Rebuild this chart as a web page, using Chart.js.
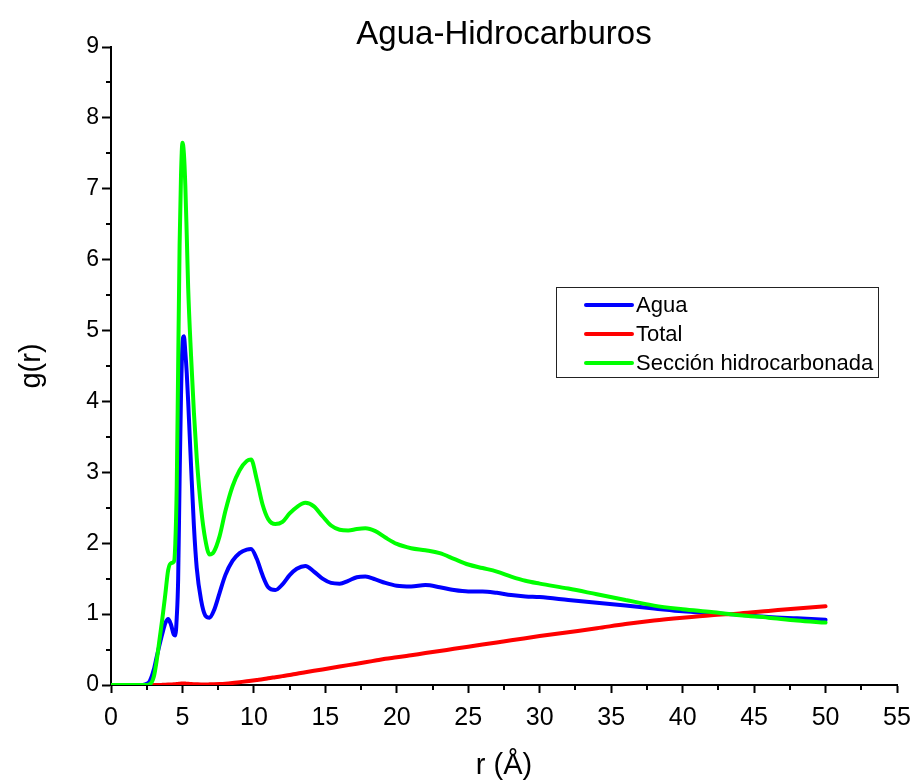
<!DOCTYPE html>
<html>
<head>
<meta charset="utf-8">
<script src="https://cdn.jsdelivr.net/npm/chart.js@4.4.1/dist/chart.umd.min.js"></script>
<style>
  html, body { margin: 0; padding: 0; background: #fff; }
  #wrap { width: 914px; height: 783px; }
</style>
</head>
<body>
<div id="wrap"><canvas id="chart" width="914" height="783"></canvas></div>
<script>
// r (Å) sample points, shared by the three curves
const rValues = [0, 1, 2, 2.4, 2.7, 3.0, 3.2, 3.4, 3.6, 3.8, 4.0, 4.2, 4.4, 4.5, 4.6, 4.7, 4.8, 4.9, 5.0, 5.1,
  5.2, 5.3, 5.4, 5.6, 5.8, 6.0, 6.3, 6.6, 6.9, 7.2, 7.6, 8.0, 8.5, 9.0, 9.5, 9.8, 10.2, 10.6, 11.0, 11.5,
  12.0, 12.5, 13.0, 13.6, 14.2, 14.8, 15.4, 16.0, 16.6, 17.2, 17.8, 18.5, 19.2, 20, 21, 22, 23, 24, 25, 26,
  27, 28, 29, 30, 32, 34, 36, 38, 40, 42, 44, 46, 48, 50];

const aguaValues = [0, 0, 0, 0.01, 0.05, 0.22, 0.40, 0.57, 0.73, 0.87, 0.93, 0.85, 0.71, 0.70, 0.95, 1.5, 2.9, 4.1, 4.8, 4.92,
  4.7, 4.4, 4.0, 3.1, 2.25, 1.65, 1.2, 0.98, 0.95, 1.05, 1.3, 1.55, 1.75, 1.86, 1.91, 1.92, 1.78, 1.55, 1.38, 1.34,
  1.42, 1.55, 1.64, 1.68, 1.6, 1.5, 1.44, 1.43, 1.47, 1.52, 1.53, 1.49, 1.44, 1.40, 1.39, 1.41, 1.38, 1.34, 1.32, 1.32,
  1.30, 1.27, 1.25, 1.24, 1.20, 1.16, 1.12, 1.08, 1.04, 1.015, 0.99, 0.96, 0.94, 0.92];

const totalValues = [0, 0, 0, 0, 0, 0, 0, 0, 0.002, 0.004, 0.006, 0.008, 0.01, 0.012, 0.014, 0.016, 0.018, 0.02, 0.022, 0.022,
  0.02, 0.018, 0.016, 0.014, 0.012, 0.01, 0.008, 0.008, 0.009, 0.01, 0.013, 0.018, 0.028, 0.04, 0.052, 0.06, 0.07, 0.08, 0.095, 0.11,
  0.125, 0.14, 0.16, 0.18, 0.20, 0.22, 0.24, 0.26, 0.28, 0.30, 0.32, 0.345, 0.37, 0.39, 0.42, 0.45, 0.48, 0.51, 0.54, 0.57,
  0.60, 0.63, 0.66, 0.69, 0.745, 0.80, 0.86, 0.91, 0.95, 0.985, 1.01, 1.045, 1.08, 1.11];

const seccionValues = [0, 0, 0, 0, 0.01, 0.12, 0.35, 0.65, 0.95, 1.28, 1.62, 1.72, 1.74, 2.0, 2.8, 4.5, 6.2, 7.2, 7.65, 7.5,
  7.05, 6.35, 5.6, 4.65, 3.85, 3.2, 2.5, 2.05, 1.84, 1.88, 2.1, 2.45, 2.8, 3.03, 3.16, 3.18, 2.9, 2.55, 2.34, 2.27,
  2.3, 2.42, 2.51, 2.57, 2.52, 2.38, 2.25, 2.19, 2.18, 2.2, 2.21, 2.17, 2.08, 1.99, 1.93, 1.90, 1.86, 1.78, 1.70, 1.65,
  1.60, 1.53, 1.47, 1.43, 1.36, 1.28, 1.20, 1.12, 1.07, 1.03, 0.985, 0.95, 0.91, 0.88];

const seriesLabels = ['Agua', 'Total', 'Sección hidrocarbonada'];
const seriesColors = ['#0000ff', '#ff0000', '#00ff00'];
const xTicks = [0, 5, 10, 15, 20, 25, 30, 35, 40, 45, 50, 55];
const yTicks = [0, 1, 2, 3, 4, 5, 6, 7, 8, 9];
const chartTitle = 'Agua-Hidrocarburos';

const FONT = 'Arial, "Liberation Sans", Helvetica, sans-serif';

function toPoints(values) {
    return rValues.map((r, i) => ({ x: r, y: values[i] }));
}

// minor ticks, title and boxed legend
const extrasPlugin = {
    id: 'extras',
    afterDraw(chart) {
        const ctx = chart.ctx;
        const xs = chart.scales.x;
        const ys = chart.scales.y;
        const area = chart.chartArea;
        ctx.save();
        ctx.strokeStyle = '#000';
        ctx.lineWidth = 2;
        ctx.beginPath();
        for (let i = 0; i < xTicks.length - 1; i++) {
            const px = Math.round(xs.getPixelForValue((xTicks[i] + xTicks[i + 1]) / 2));
            ctx.moveTo(px, area.bottom);
            ctx.lineTo(px, area.bottom + 5);
        }
        for (let i = 0; i < yTicks.length - 1; i++) {
            const py = Math.round(ys.getPixelForValue((yTicks[i] + yTicks[i + 1]) / 2));
            ctx.moveTo(area.left, py);
            ctx.lineTo(area.left - 5, py);
        }
        ctx.stroke();

        // title
        ctx.fillStyle = '#000';
        ctx.font = '33px ' + FONT;
        ctx.textAlign = 'center';
        ctx.textBaseline = 'middle';
        ctx.fillText(chartTitle, (area.left + area.right) / 2, 35);

        // legend box
        const lx = 556, ly = 287, lw = 322, lh = 90;
        ctx.lineWidth = 1;
        ctx.strokeStyle = '#222';
        ctx.strokeRect(lx + 0.5, ly + 0.5, lw, lh);
        ctx.font = '22px ' + FONT;
        ctx.textAlign = 'left';
        ctx.lineCap = 'round';
        seriesLabels.forEach((label, i) => {
            const yy = ly + 18 + i * 29;
            ctx.strokeStyle = seriesColors[i];
            ctx.lineWidth = 4;
            ctx.beginPath();
            ctx.moveTo(lx + 30, yy);
            ctx.lineTo(lx + 76, yy);
            ctx.stroke();
            ctx.fillStyle = '#000';
            ctx.fillText(label, lx + 80, yy + 1);
        });
        ctx.restore();
    }
};

const ctx = document.getElementById('chart');
const allValues = [aguaValues, totalValues, seccionValues];

new Chart(ctx, {
    type: 'line',
    data: {
        datasets: seriesLabels.map((label, i) => ({
            label: label,
            data: toPoints(allValues[i]),
            borderColor: seriesColors[i],
            backgroundColor: seriesColors[i],
            borderWidth: 4,
            pointRadius: 0,
            fill: false,
            cubicInterpolationMode: 'monotone',
            borderCapStyle: 'round',
            borderJoinStyle: 'round',
            order: 2 - i
        }))
    },
    options: {
        responsive: false,
        animation: false,
        layout: { padding: { top: 47, right: 17, bottom: 0, left: 0 } },
        plugins: {
            legend: { display: false },
            title: { display: false },
            tooltip: { enabled: false }
        },
        scales: {
            x: {
                type: 'linear',
                min: 0,
                max: 55,
                afterFit: (scale) => {
                    scale.height = 98;
                    scale.paddingLeft = 0;
                    scale.paddingRight = 0;
                },
                afterBuildTicks: (scale) => { scale.ticks = xTicks.map(v => ({ value: v })); },
                ticks: {
                    color: '#000',
                    font: { family: FONT, size: 25 },
                    padding: 10,
                    maxRotation: 0,
                    autoSkip: false
                },
                grid: {
                    drawOnChartArea: false,
                    drawTicks: true,
                    tickLength: 8,
                    tickWidth: 2,
                    tickColor: '#000'
                },
                border: { display: true, color: '#000', width: 2 },
                title: {
                    display: true,
                    text: 'r (Å)',
                    color: '#000',
                    font: { family: FONT, size: 29 },
                    padding: { top: 0, bottom: 0 }
                }
            },
            y: {
                type: 'linear',
                min: 0,
                max: 9,
                afterFit: (scale) => {
                    scale.width = 111;
                    scale.paddingTop = 0;
                    scale.paddingBottom = 0;
                },
                afterBuildTicks: (scale) => { scale.ticks = yTicks.map(v => ({ value: v })); },
                ticks: {
                    color: '#000',
                    font: { family: FONT, size: 23 },
                    padding: 3
                },
                grid: {
                    drawOnChartArea: false,
                    drawTicks: true,
                    tickLength: 9,
                    tickWidth: 2,
                    tickColor: '#000'
                },
                border: { display: true, color: '#000', width: 2 },
                title: {
                    display: true,
                    text: 'g(r)',
                    color: '#000',
                    font: { family: FONT, size: 29 },
                    padding: { top: 15, bottom: 0 }
                }
            }
        }
    },
    plugins: [extrasPlugin]
});
</script>
</body>
</html>
